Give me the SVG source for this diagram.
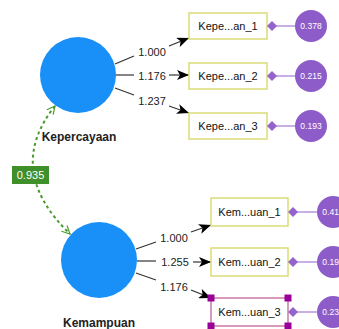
<svg xmlns="http://www.w3.org/2000/svg" width="339" height="329" viewBox="0 0 339 329">
<defs>
<marker id="ah" markerWidth="12" markerHeight="10" refX="12" refY="5" orient="auto" markerUnits="userSpaceOnUse">
<path d="M0,0 L12,5 L0,10 L3,5 Z" fill="#000"/>
</marker>
<marker id="gh" markerWidth="10" markerHeight="10" refX="9" refY="5" orient="auto-start-reverse" markerUnits="userSpaceOnUse">
<path d="M1,1 L9,5 L1,9" fill="none" stroke="#4a9a30" stroke-width="1.2"/>
</marker>
<style>
.lat{fill:#1890f8}
.latl{font-family:"Liberation Sans",Arial,sans-serif;font-size:12px;font-weight:bold;fill:#222;text-anchor:middle}
.box{fill:#fff;stroke:#dcdc78;stroke-width:1.5}
.sel{fill:#fff;stroke:#c87aa8;stroke-width:1.5}
.bt{font-family:"Liberation Sans",Arial,sans-serif;font-size:11px;fill:#111;text-anchor:middle}
.res{fill:#8e5cc8}
.rt{font-family:"Liberation Sans",Arial,sans-serif;font-size:8.5px;fill:#fff;text-anchor:middle}
.rl{stroke:#a37ad6;stroke-width:1.2}
.dia{fill:#9464cc}
.pl{stroke:#333;stroke-width:1.2;fill:none}
.pt{font-family:"Liberation Sans",Arial,sans-serif;font-size:11px;fill:#222;text-anchor:middle}
.h{fill:#99009a}
</style>
</defs>
<g id="connectors">
<path class="pl" d="M115,64 L134,56"/>
<path class="pl" d="M169,46 L189,38" marker-end="url(#ah)"/>
<path class="pl" d="M116,75 L134,75"/>
<path class="pl" d="M169,75 L189,75" marker-end="url(#ah)"/>
<path class="pl" d="M115,88 L134,95"/>
<path class="pl" d="M169,106 L189,113" marker-end="url(#ah)"/>
<text class="pt" x="152" y="56">1.000</text>
<text class="pt" x="152" y="80">1.176</text>
<text class="pt" x="152" y="105">1.237</text>
<path class="pl" d="M136,249 L156,242"/>
<path class="pl" d="M191,232 L211,225" marker-end="url(#ah)"/>
<path class="pl" d="M137,261 L156,261"/>
<path class="pl" d="M193,262 L211,262" marker-end="url(#ah)"/>
<path class="pl" d="M136,273 L156,280"/>
<path class="pl" d="M191,290 L211,298" marker-end="url(#ah)"/>
<text class="pt" x="174" y="242">1.000</text>
<text class="pt" x="175" y="266">1.255</text>
<text class="pt" x="174" y="291">1.176</text>
<path d="M55,106 Q4,170 70,234" fill="none" stroke="#4a9a30" stroke-width="2" stroke-dasharray="3,3" marker-start="url(#gh)" marker-end="url(#gh)"/>
<line class="rl" x1="272" y1="26" x2="296" y2="26"/>
<line class="rl" x1="272" y1="76" x2="296" y2="76"/>
<line class="rl" x1="272" y1="126" x2="296" y2="126"/>
<line class="rl" x1="293" y1="212" x2="318" y2="212"/>
<line class="rl" x1="293" y1="262" x2="318" y2="262"/>
<line class="rl" x1="293" y1="312" x2="318" y2="312"/>
</g>
<g id="corr">
<rect x="12" y="166" width="37" height="18" fill="#3f8f2a"/>
<text x="30.5" y="179" font-family="Liberation Sans,Arial,sans-serif" font-size="11" fill="#fff" text-anchor="middle">0.935</text>
</g>
<g id="Kepercayaan">
<circle class="lat" cx="78" cy="75" r="38"/>
<text class="latl" x="79" y="141">Kepercayaan</text>
</g>
<g id="Kemampuan">
<circle class="lat" cx="99" cy="260" r="38"/>
<text class="latl" x="99" y="327">Kemampuan</text>
</g>
<g id="k1"><rect class="box" x="189" y="13" width="78" height="26"/><text class="bt" x="228" y="30">Kepe...an_1</text><path class="dia" d="M267,26 L272,21 L277,26 L272,31 Z"/></g>
<g id="k2"><rect class="box" x="189" y="63" width="78" height="26"/><text class="bt" x="228" y="80">Kepe...an_2</text><path class="dia" d="M267,76 L272,71 L277,76 L272,81 Z"/></g>
<g id="k3"><rect class="box" x="189" y="113" width="78" height="26"/><text class="bt" x="228" y="130">Kepe...an_3</text><path class="dia" d="M267,126 L272,121 L277,126 L272,131 Z"/></g>
<g id="m1"><rect class="box" x="211" y="198" width="77" height="28"/><text class="bt" x="249.5" y="216">Kem...uan_1</text><path class="dia" d="M288,212 L293,207 L298,212 L293,217 Z"/></g>
<g id="m2"><rect class="box" x="211" y="248" width="77" height="28"/><text class="bt" x="249.5" y="266">Kem...uan_2</text><path class="dia" d="M288,262 L293,257 L298,262 L293,267 Z"/></g>
<g id="m3"><rect class="sel" x="211" y="298" width="77" height="28"/><text class="bt" x="249.5" y="316">Kem...uan_3</text><path class="dia" d="M288,312 L293,307 L298,312 L293,317 Z"/>
<rect class="h" x="207.5" y="294.5" width="7" height="7"/><rect class="h" x="284.5" y="294.5" width="7" height="7"/><rect class="h" x="207.5" y="322.5" width="7" height="7"/><rect class="h" x="284.5" y="322.5" width="7" height="7"/></g>
<g id="e1"><circle class="res" cx="311" cy="26" r="16"/><text class="rt" x="311" y="29">0.378</text></g>
<g id="e2"><circle class="res" cx="311" cy="76" r="16"/><text class="rt" x="311" y="79">0.215</text></g>
<g id="e3"><circle class="res" cx="311" cy="126" r="16"/><text class="rt" x="311" y="129">0.193</text></g>
<g id="e4"><circle class="res" cx="333" cy="212" r="16"/><text class="rt" x="333" y="215">0.415</text></g>
<g id="e5"><circle class="res" cx="333" cy="262" r="16"/><text class="rt" x="333" y="265">0.195</text></g>
<g id="e6"><circle class="res" cx="333" cy="312" r="16"/><text class="rt" x="333" y="315">0.235</text></g>
</svg>
